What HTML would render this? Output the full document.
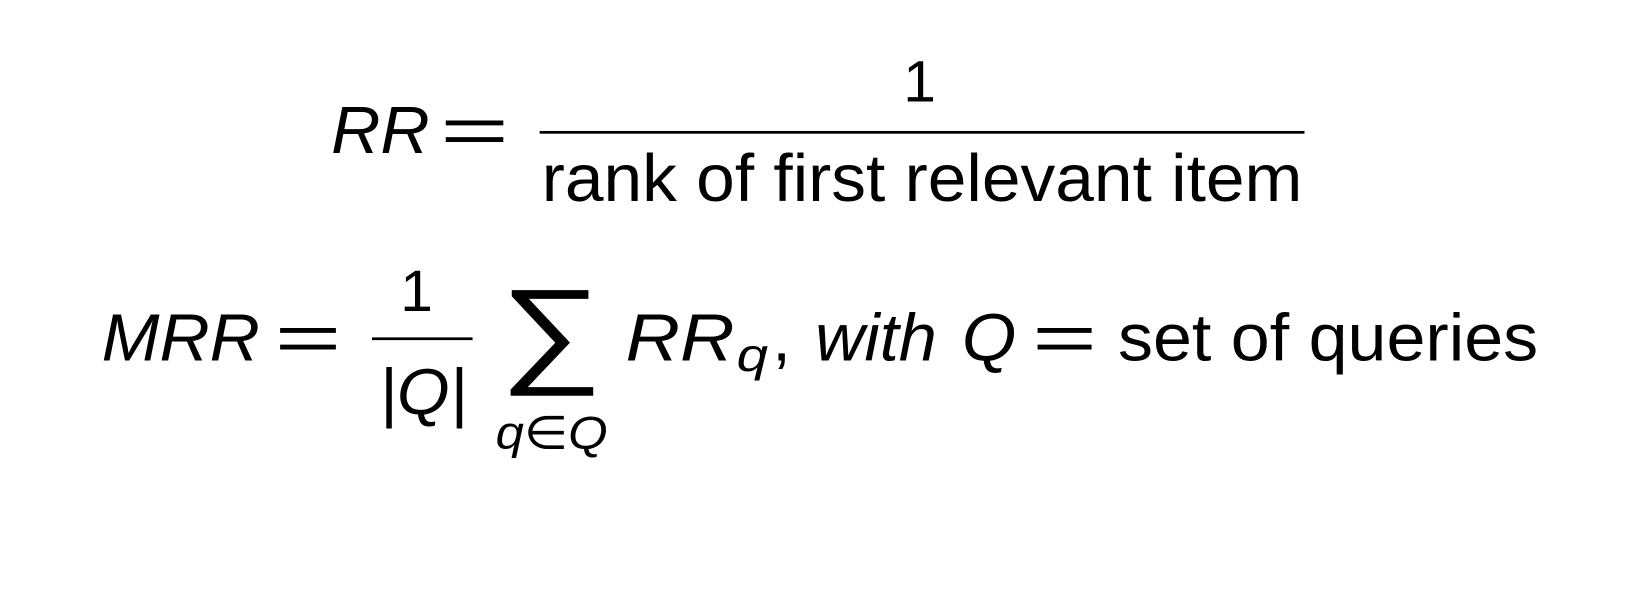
<!DOCTYPE html>
<html><head><meta charset="utf-8"><style>
html,body{margin:0;padding:0;background:#fff;}
svg{display:block;}
text{font-family:"Liberation Sans","DejaVu Sans",sans-serif;fill:#000;}
.i{font-style:italic;}
</style></head><body>
<svg width="1642" height="589" viewBox="0 0 1642 589">
 <g transform="scale(1.0478)">
 <g>
  <text class="i" x="316" y="146" font-size="64" textLength="94" lengthAdjust="spacingAndGlyphs">RR</text>
  <text x="420" y="146" font-size="64" textLength="66" lengthAdjust="spacingAndGlyphs">=</text>
  <text x="862" y="97" font-size="56">1</text>
  <rect x="515" y="125" width="730" height="2.6"/>
  <text x="517" y="192" font-size="64" textLength="726" lengthAdjust="spacingAndGlyphs">rank of first relevant item</text>
 </g>
 <g>
  <text class="i" x="97" y="344" font-size="64" textLength="151" lengthAdjust="spacingAndGlyphs">MRR</text>
  <text x="262" y="344" font-size="64" textLength="64" lengthAdjust="spacingAndGlyphs">=</text>
  <text x="382" y="297" font-size="56">1</text>
  <rect x="355" y="322" width="96" height="2.6"/>
  <text class="i" x="362" y="395" font-size="62" textLength="84" lengthAdjust="spacingAndGlyphs">|Q|</text>
  <text x="477" y="354" font-size="112" textLength="98" lengthAdjust="spacingAndGlyphs">∑</text>
  <text class="i" x="473" y="428" font-size="44" textLength="107" lengthAdjust="spacingAndGlyphs">q∈Q</text>
  <text class="i" x="597" y="344" font-size="64" textLength="104" lengthAdjust="spacingAndGlyphs">RR</text>
  <text class="i" x="703" y="354" font-size="44" textLength="30" lengthAdjust="spacingAndGlyphs">q</text>
  <text x="737" y="344" font-size="64">,</text>
  <text class="i" x="778" y="344" font-size="64" textLength="116" lengthAdjust="spacingAndGlyphs">with</text>
  <text class="i" x="918" y="344" font-size="64" textLength="52" lengthAdjust="spacingAndGlyphs">Q</text>
  <text x="985" y="344" font-size="64" textLength="62" lengthAdjust="spacingAndGlyphs">=</text>
  <text x="1067" y="344" font-size="64" textLength="401" lengthAdjust="spacingAndGlyphs">set of queries</text>
 </g>
 </g>
</svg>
</body></html>
